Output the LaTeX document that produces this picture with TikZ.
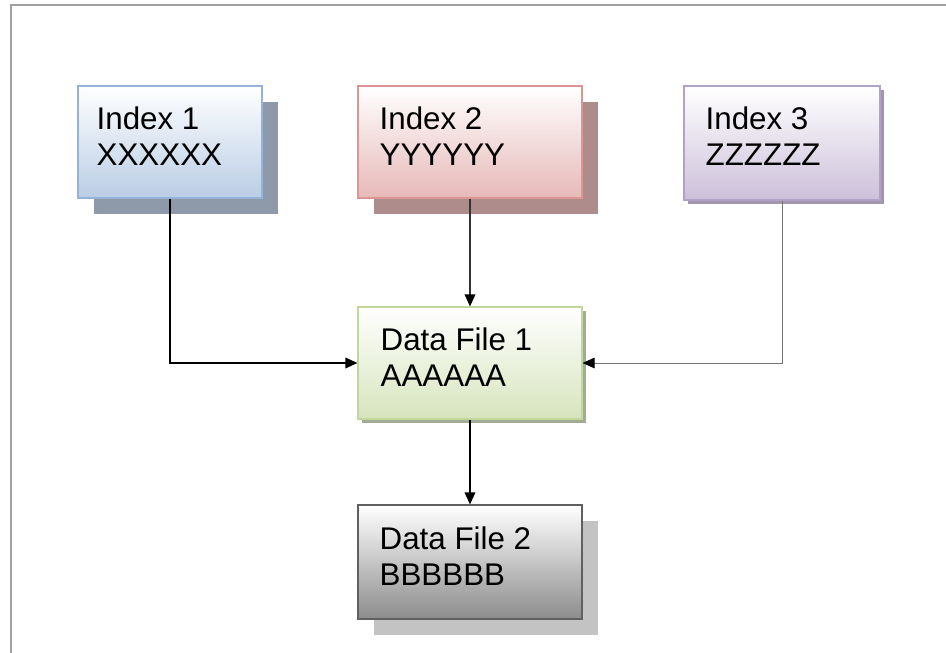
\documentclass[tikz,border=0pt]{standalone}
\usepackage{fontspec}
\setmainfont{Liberation Sans}
\usepackage{xcolor}
\usepackage{tikz}
\usetikzlibrary{positioning,arrows.meta,calc,shadows}

\definecolor{frameline}{HTML}{A0A0A0}
\definecolor{blueline}{HTML}{95B3D7}
\definecolor{bluebot}{HTML}{B9CDE5}
\definecolor{blueshade}{HTML}{8E9AA9}
\definecolor{redline}{HTML}{D99694}
\definecolor{redbot}{HTML}{E6B9B8}
\definecolor{redshade}{HTML}{AE8C8C}
\definecolor{purpline}{HTML}{B3A2C7}
\definecolor{purpbot}{HTML}{CCC0DA}
\definecolor{purpshade}{HTML}{A096AE}
\definecolor{greenline}{HTML}{C3D69B}
\definecolor{greenbot}{HTML}{D7E4BD}
\definecolor{greenshade}{HTML}{A3AC92}
\definecolor{grayline}{HTML}{606060}
\definecolor{graybot}{HTML}{8C8C8C}
\definecolor{grayshade}{HTML}{C3C3C3}

\tikzset{
  box/.style={rectangle, line width=0.9pt, inner sep=0pt, minimum height=84pt, shading=axis},
  bigshadow/.style={drop shadow={shadow xshift=12pt, shadow yshift=-12pt, fill=#1, opacity=1}},
  smallshadow/.style={drop shadow={shadow xshift=3pt, shadow yshift=-3pt, fill=#1, opacity=1}},
  boxtext/.style={anchor=north west, inner sep=0pt, align=left, font=\fontsize{23.5}{27}\selectfont},
  link/.style={-{Triangle[length=9pt, width=8pt, color=black]}, line width=1pt, color=black}
}

\begin{document}
\begin{tikzpicture}[x=0.75pt, y=-0.75pt]
\useasboundingbox (0,0) rectangle (946,653);
\draw[frameline, line width=1.5pt] (11,653) -- (11,5) -- (946,5);

% the three index boxes
\node[box, bigshadow=blueshade, draw=blueline, top color=white, bottom color=bluebot,
  minimum width=138pt] (ix1) at (170,142) {};
\node[box, bigshadow=redshade, draw=redline, top color=white, bottom color=redbot,
  minimum width=168pt] (ix2) at (470,142) {};
\node[box, smallshadow=purpshade, draw=purpline, top color=white, bottom color=purpbot,
  minimum width=147pt, minimum height=85.5pt] (ix3) at (782,143) {};

% data files
\node[box, smallshadow=greenshade, draw=greenline, top color=white, bottom color=greenbot,
  minimum width=168pt] (df1) at (470,363) {};
\node[box, bigshadow=grayshade, draw=grayline, top color=white, bottom color=graybot,
  minimum width=168pt, minimum height=85.5pt] (df2) at (470,562) {};

\node[boxtext] (ix1t) at ($(ix1.north west)+(19,21)$) {Index 1\\XXXXXX};
\node[boxtext] (ix2t) at ($(ix2.north west)+(22,21)$) {Index 2\\YYYYYY};
\node[boxtext] (ix3t) at ($(ix3.north west)+(22,21)$) {Index 3\\ZZZZZZ};
\node[boxtext] (df1t) at ($(df1.north west)+(23,21)$) {Data File 1\\AAAAAA};
\node[boxtext] (df2t) at ($(df2.north west)+(22,22)$) {Data File 2\\BBBBBB};

% links into the data files
\draw[link] (ix1.south) |- (df1.west);
\draw[link, color=black!80] (ix2.south) -- (df1.north);
\draw[link, line width=0.6pt, color=black!55] (ix3.south) |- (df1.east);
\draw[link] (df1.south) -- (df2.north);
\end{tikzpicture}
\end{document}
